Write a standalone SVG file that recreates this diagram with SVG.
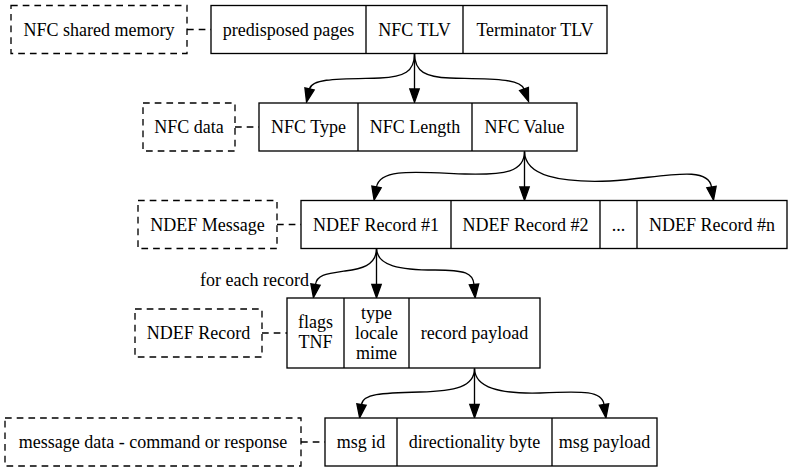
<svg xmlns="http://www.w3.org/2000/svg" width="792" height="472" viewBox="0 0 792 472">
<defs>
<marker id="ah" markerUnits="userSpaceOnUse" markerWidth="16" markerHeight="12" viewBox="0 0 16 12" refX="1" refY="6" orient="auto" overflow="visible">
<polygon points="1,1.3 14.3,6 1,10.7" fill="#000" stroke="#000" stroke-width="1.33"/>
</marker>
</defs>
<rect width="792" height="472" fill="#fff"/>

<g id="connectors" fill="none" stroke="#000" stroke-width="1.33">
<g stroke-dasharray="6.7,5">
<line x1="187" y1="29.5" x2="211" y2="29.5"/>
<line x1="235" y1="127" x2="259" y2="127"/>
<line x1="277" y1="224.5" x2="301" y2="224.5"/>
<line x1="262" y1="333" x2="287" y2="333"/>
<line x1="301" y1="442" x2="325" y2="442"/>
</g>
<g marker-end="url(#ah)">
<path d="M414.5,53.5 C414.5,72 404,77 380,78 C340,79 312,78 309.5,89"/>
<path d="M414.5,53.5 L414.5,89"/>
<path d="M414.5,53.5 C414.5,72 426,77 450,78 C490,79 520,78 524,89"/>
<path d="M524.5,151.5 C524.5,172 505,175 465,174 C415,172 380,168 376.5,187"/>
<path d="M524.5,151.5 L524.5,187"/>
<path d="M524.5,151.5 C525,176 560,183 610,181 C660,178 708,164 711.5,187"/>
<path d="M376.5,248.5 C376.5,266 360,269 345,271 C325,274 317,275 315.5,284.5"/>
<path d="M376.5,248.5 L376.5,284.5"/>
<path d="M376.5,248.5 C377,266 400,270 435,270 C465,270 473,273 474,284.5"/>
<path d="M474.5,368.5 C474.5,387 455,391 420,392 C380,393 363,394 361.5,404.5"/>
<path d="M474.5,368.5 L474.5,404.5"/>
<path d="M474.5,368.5 C475,388 500,394 540,393 C585,391 602,391 604,404.5"/>
</g>
</g>

<g text-anchor="middle" fill="#000">
<text x="309" y="286" text-anchor="end" font-family="Liberation Serif" font-size="18">for each record</text>

<g id="nfc_shared_memory">
<rect x="11" y="5.5" width="176" height="48" fill="#fff" stroke="#000" stroke-width="1.33" stroke-dasharray="6.7,5"/>
<text x="99" y="35.5" font-family="Liberation Serif" font-size="18">NFC shared memory</text>
</g>
<g id="nfc_memory_layout">
<rect x="211" y="5.5" width="396" height="48" fill="#fff" stroke="#000" stroke-width="1.33"/>
<path d="M366,5.5 V53.5 M463,5.5 V53.5" stroke="#000" stroke-width="1.33"/>
<text x="288.5" y="35.5" font-family="Liberation Serif" font-size="18">predisposed pages</text>
<text x="414.5" y="35.5" font-family="Liberation Serif" font-size="18">NFC TLV</text>
<text x="535" y="35.5" font-family="Liberation Serif" font-size="18">Terminator TLV</text>
</g>

<g id="nfc_data">
<rect x="143" y="103" width="92" height="48" fill="#fff" stroke="#000" stroke-width="1.33" stroke-dasharray="6.7,5"/>
<text x="189" y="133" font-family="Liberation Serif" font-size="18">NFC data</text>
</g>
<g id="nfc_tlv">
<rect x="259" y="103" width="318" height="48" fill="#fff" stroke="#000" stroke-width="1.33"/>
<path d="M358,103 V151 M472,103 V151" stroke="#000" stroke-width="1.33"/>
<text x="308.5" y="133" font-family="Liberation Serif" font-size="18">NFC Type</text>
<text x="415" y="133" font-family="Liberation Serif" font-size="18">NFC Length</text>
<text x="524.5" y="133" font-family="Liberation Serif" font-size="18">NFC Value</text>
</g>

<g id="ndef_message">
<rect x="138" y="200.5" width="139" height="48" fill="#fff" stroke="#000" stroke-width="1.33" stroke-dasharray="6.7,5"/>
<text x="207.5" y="230.5" font-family="Liberation Serif" font-size="18">NDEF Message</text>
</g>
<g id="ndef_records">
<rect x="301" y="200.5" width="486" height="48" fill="#fff" stroke="#000" stroke-width="1.33"/>
<path d="M451,200.5 V248.5 M600,200.5 V248.5 M637,200.5 V248.5" stroke="#000" stroke-width="1.33"/>
<text x="376" y="230.5" font-family="Liberation Serif" font-size="18">NDEF Record #1</text>
<text x="525.5" y="230.5" font-family="Liberation Serif" font-size="18">NDEF Record #2</text>
<text x="618.5" y="230.5" font-family="Liberation Serif" font-size="18">...</text>
<text x="712" y="230.5" font-family="Liberation Serif" font-size="18">NDEF Record #n</text>
</g>

<g id="ndef_record">
<rect x="135" y="309" width="127" height="48" fill="#fff" stroke="#000" stroke-width="1.33" stroke-dasharray="6.7,5"/>
<text x="198.5" y="339" font-family="Liberation Serif" font-size="18">NDEF Record</text>
</g>
<g id="ndef_record_fields">
<rect x="287" y="298" width="253" height="70" fill="#fff" stroke="#000" stroke-width="1.33"/>
<path d="M344,298 V368 M409,298 V368" stroke="#000" stroke-width="1.33"/>
<text x="315.5" y="328" font-family="Liberation Serif" font-size="18">flags</text>
<text x="315.5" y="348" font-family="Liberation Serif" font-size="18">TNF</text>
<text x="376.5" y="318.5" font-family="Liberation Serif" font-size="18">type</text>
<text x="376.5" y="338.5" font-family="Liberation Serif" font-size="18">locale</text>
<text x="376.5" y="358.5" font-family="Liberation Serif" font-size="18">mime</text>
<text x="474.5" y="339" font-family="Liberation Serif" font-size="18">record payload</text>
</g>

<g id="message_data">
<rect x="5" y="418" width="296" height="48" fill="#fff" stroke="#000" stroke-width="1.33" stroke-dasharray="6.7,5"/>
<text x="153" y="448" font-family="Liberation Serif" font-size="18">message data - command or response</text>
</g>
<g id="message_fields">
<rect x="325" y="418" width="332" height="48" fill="#fff" stroke="#000" stroke-width="1.33"/>
<path d="M397,418 V466 M552,418 V466" stroke="#000" stroke-width="1.33"/>
<text x="361" y="448" font-family="Liberation Serif" font-size="18">msg id</text>
<text x="474.5" y="448" font-family="Liberation Serif" font-size="18">directionality byte</text>
<text x="604.5" y="448" font-family="Liberation Serif" font-size="18">msg payload</text>
</g>
</g>
</svg>
